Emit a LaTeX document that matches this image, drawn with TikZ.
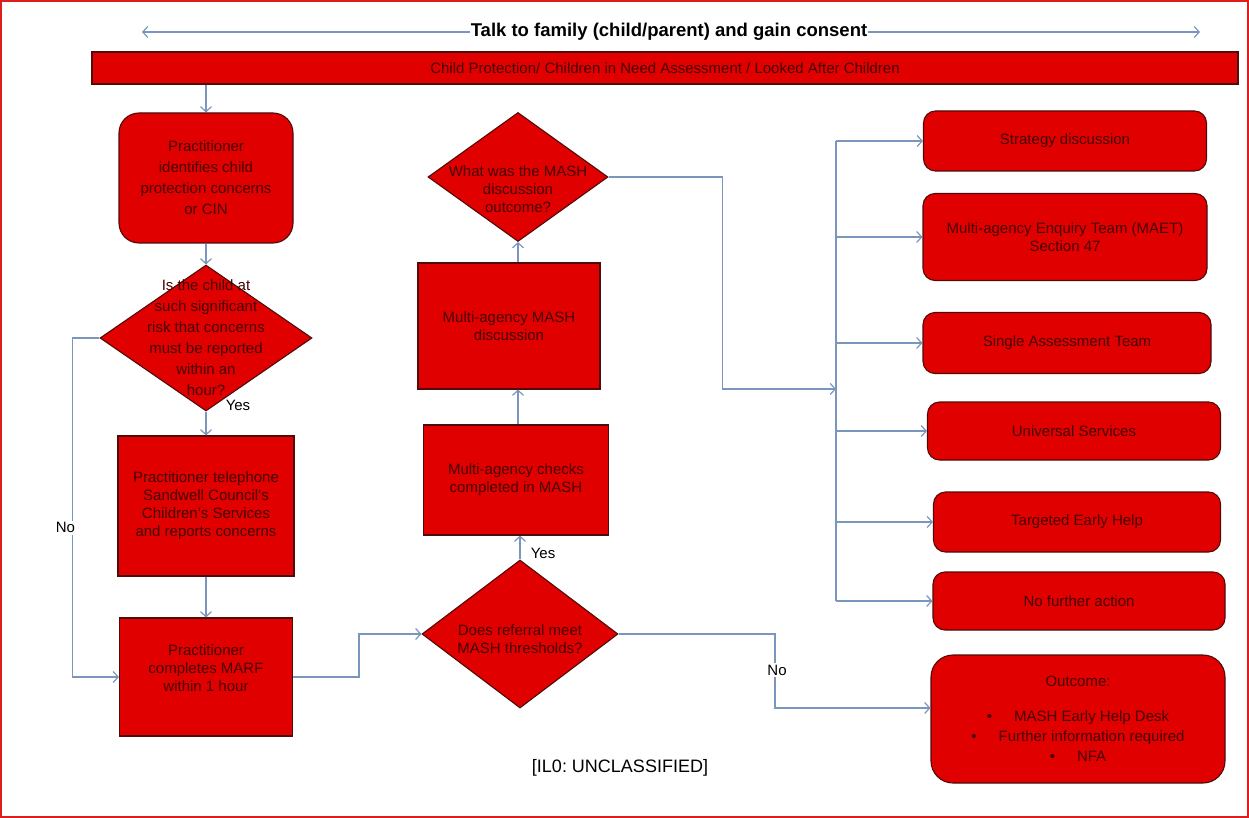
\documentclass[tikz,border=0pt]{standalone}
\usepackage{fontspec}
\setmainfont{Liberation Sans}
\frenchspacing
\usetikzlibrary{shapes.geometric,arrows.meta}
\definecolor{boxred}{RGB}{225,0,0}
\definecolor{boxline}{RGB}{80,10,10}
\definecolor{boxtext}{RGB}{70,0,0}
\definecolor{linkblue}{RGB}{122,150,188}
\definecolor{edgered}{RGB}{222,30,30}
\tikzset{
  box/.style={rectangle,draw=boxline,fill=boxred,line width=1.1pt,text=boxtext,align=center,inner sep=0pt,font=\fontsize{15}{18}\selectfont},
  rbox/.style={box,rounded corners=12pt},
  decision/.style={diamond,draw=boxline,fill=boxred,line width=1.1pt,inner sep=0pt},
  dtext/.style={text=boxtext,align=center,inner sep=0pt,font=\fontsize{15}{18}\selectfont},
  link/.style={draw=linkblue,line width=1.2pt},
  conn/.style={link,-{Straight Barb[length=5pt,width=11pt]}},
  lbl/.style={inner sep=2pt,font=\fontsize{15}{18}\selectfont},
}
\begin{document}
\begin{tikzpicture}[x=1pt,y=-1pt]
\useasboundingbox (0,0) rectangle (1249,818);
\draw[draw=edgered,line width=2pt] (1,1) rectangle (1248,817);
% heading and banner
\coordinate (hl) at (142,32);
\coordinate (hr) at (1200,32);
\draw[link,{Straight Barb[length=5pt,width=11pt]}-{Straight Barb[length=5pt,width=11pt]}] (hl) -- (hr);
\node(head)[fill=white,inner xsep=1pt,inner ysep=0pt,font=\bfseries\fontsize{18.5}{20}\selectfont] at (669,32){Talk to family (child/parent) and gain consent};
\node(cp)[box,minimum width=1146pt,minimum height=32pt] at (665,68){Child Protection/ Children in Need Assessment / Looked After Children};
% left column
\node(ident)[rbox,rounded corners=20pt,minimum width=174pt,minimum height=130pt,font=\fontsize{15}{21}\selectfont] at (206,178){Practitioner\\identifies child\\protection concerns\\or CIN};
\node(risk)[decision,minimum width=212pt,minimum height=146pt] at (206,338){};
\node(riskt)[dtext,font=\fontsize{15}{21}\selectfont] at (risk){Is the child at\\such significant\\risk that concerns\\must be reported\\within an\\hour?};
\node(phone)[box,minimum width=176pt,minimum height=140pt] at (206,506){Practitioner telephone\\Sandwell Council's\\Children's Services\\and reports concerns};
\node(marf)[box,minimum width=173pt,minimum height=118pt] at (206,677){};
\node(marft)[dtext] at ([yshift=9pt]marf.center){Practitioner\\completes MARF\\within 1 hour};
\node(yes1)[lbl] at (238,405){Yes};
% middle column
\node(thresh)[decision,minimum width=196pt,minimum height=148pt] at (520,634){};
\node(thresht)[dtext] at ([yshift=-5pt]thresh.center){Does referral meet\\MASH thresholds?};
\node(checks)[box,minimum width=185pt,minimum height=110pt] at (516,480){Multi-agency checks\\completed in MASH};
\node(disc)[box,minimum width=182pt,minimum height=126pt] at (509,326){Multi-agency MASH\\discussion};
\node(outq)[decision,minimum width=180pt,minimum height=129pt] at (518,177){};
\node(outqt)[dtext] at ([yshift=-12pt]outq.center){What was the MASH\\discussion\\outcome?};
\node(yes2)[lbl] at (543,553){Yes};
% right column
\node(sd)[rbox,minimum width=283pt,minimum height=60pt] at (1065,141){Strategy discussion};
\node(maet)[rbox,minimum width=284pt,minimum height=87pt] at (1065,237){Multi-agency Enquiry Team (MAET)\\Section 47};
\node(sat)[rbox,minimum width=288pt,minimum height=61pt] at (1067,343){Single Assessment Team};
\node(us)[rbox,minimum width=293pt,minimum height=58pt] at (1074,431){Universal Services};
\node(teh)[rbox,minimum width=287pt,minimum height=60pt] at (1077,522){Targeted Early Help};
\node(nfa)[rbox,minimum width=292pt,minimum height=58pt] at (1079,601){No further action};
\node(out)[rbox,rounded corners=22pt,minimum width=294pt,minimum height=128pt,font=\fontsize{15}{20}\selectfont] at (1078,719){Outcome:\\[15pt]•\hspace{22pt}MASH Early Help Desk\\•\hspace{22pt}Further information required\\•\hspace{22pt}NFA};
\node(class)[font=\fontsize{18}{20}\selectfont] at (620,768){[IL0: UNCLASSIFIED]};
% connectors
\draw[conn] (cp.south -| ident) -- (ident.north);
\draw[conn] (ident.south) -- (risk.north);
\draw[conn] (risk.south) -- (phone.north);
\draw[conn] (phone.south) -- (marf.north);
\draw[conn] (risk.west) -- ++(-27,0) |- node[lbl,fill=white,pos=0.28,xshift=-7pt](no1){No} (marf.west);
\draw[conn] (marf.east) -- ++(66,0) |- (thresh.west);
\draw[conn] (thresh.north) -- (thresh.north |- checks.south);
\draw[conn] (checks.north -| outq) -- (disc.south -| outq);
\draw[conn] (disc.north -| outq) -- (outq.south);
\coordinate (bus) at (836,389);
\draw[conn] (outq.east) -- ++(114,0) |- (bus);
\draw[link] (sd.west -| bus) -- (nfa.west -| bus);
\foreach \b in {sd,maet,sat,us,teh,nfa}
  \draw[conn] (\b.west -| bus) -- (\b.west);
\coordinate (nobend) at (775,708);
\draw[conn] (thresh.east) -| (nobend) -- (nobend -| out.west);
\node(no2)[lbl,fill=white] at (777,670){No};
\end{tikzpicture}
\end{document}
